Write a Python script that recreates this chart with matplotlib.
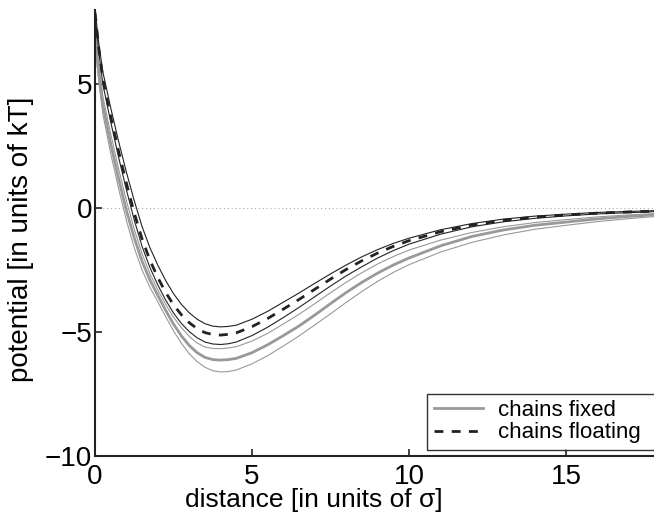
import matplotlib
matplotlib.use("Agg")
import matplotlib.pyplot as plt

plt.rcParams['font.family'] = ['Liberation Sans', 'DejaVu Sans']

# sampled separation (units of sigma)
distance = [0, 0.125, 0.25, 0.5, 0.75, 1.0, 1.25, 1.5, 1.75, 2.0, 2.25, 2.5, 2.75,
            3.0, 3.25, 3.5, 3.75, 4.0, 4.25, 4.5, 5.0, 5.5, 6.0, 6.5, 7.0, 7.5,
            8.0, 8.5, 9.0, 9.5, 10, 11, 12, 13, 14, 15, 16, 17, 17.8]

# chains floating: mean and envelope (kT)
floating_mean = [7.9, 6.4, 5.2, 3.7, 2.3, 1.0, -0.2, -1.25, -2.1, -2.8, -3.4, -3.9, -4.3,
                 -4.62, -4.86, -5.02, -5.10, -5.12, -5.09, -5.03, -4.78, -4.45, -4.07, -3.68,
                 -3.27, -2.86, -2.47, -2.12, -1.81, -1.54, -1.31, -0.95, -0.68, -0.49, -0.36,
                 -0.27, -0.20, -0.15, -0.12]
floating_hi = [8.0, 6.6, 5.5, 4.05, 2.7, 1.45, 0.3, -0.75, -1.6, -2.3, -2.92, -3.45, -3.88,
               -4.22, -4.48, -4.66, -4.76, -4.79, -4.77, -4.72, -4.48, -4.16, -3.79, -3.42,
               -3.03, -2.65, -2.29, -1.96, -1.67, -1.42, -1.21, -0.87, -0.62, -0.44, -0.32,
               -0.24, -0.17, -0.13, -0.10]
floating_lo = [7.8, 6.25, 5.0, 3.48, 2.06, 0.74, -0.48, -1.55, -2.4, -3.1, -3.71, -4.23, -4.65,
               -4.98, -5.23, -5.40, -5.48, -5.50, -5.47, -5.40, -5.14, -4.80, -4.41, -4.00,
               -3.57, -3.14, -2.73, -2.36, -2.01, -1.71, -1.45, -1.05, -0.75, -0.55, -0.41,
               -0.31, -0.23, -0.18, -0.14]

# chains fixed: mean and envelope (kT)
fixed_mean = [6.95, 5.4, 4.15, 2.6, 1.2, -0.1, -1.2, -2.15, -2.9, -3.52, -4.12, -4.68, -5.15,
              -5.54, -5.83, -6.02, -6.11, -6.13, -6.11, -6.06, -5.83, -5.51, -5.14, -4.75,
              -4.31, -3.85, -3.40, -2.99, -2.62, -2.29, -2.01, -1.52, -1.14, -0.88, -0.69,
              -0.56, -0.43, -0.33, -0.27]
fixed_hi = [7.3, 5.75, 4.5, 3.0, 1.6, 0.3, -0.85, -1.85, -2.65, -3.3, -3.88, -4.4, -4.82,
            -5.17, -5.44, -5.60, -5.66, -5.67, -5.64, -5.59, -5.36, -5.05, -4.67, -4.28,
            -3.85, -3.41, -2.99, -2.60, -2.25, -1.95, -1.69, -1.29, -0.98, -0.75, -0.58,
            -0.46, -0.35, -0.27, -0.22]
fixed_lo = [6.6, 5.05, 3.8, 2.2, 0.8, -0.5, -1.6, -2.5, -3.2, -3.78, -4.38, -4.95, -5.45,
            -5.87, -6.19, -6.42, -6.56, -6.61, -6.59, -6.53, -6.28, -5.95, -5.56, -5.15,
            -4.71, -4.26, -3.80, -3.36, -2.95, -2.59, -2.28, -1.77, -1.38, -1.08, -0.85,
            -0.69, -0.54, -0.42, -0.34]

xticks = [0, 5, 10, 15]
yticks = [-10, -5, 0, 5]

fig = plt.figure(figsize=(6.54, 5.15), dpi=100)
ax = fig.add_axes([0.1453, 0.1146, 0.8547, 0.866])

ax.axhline(0, color='#aaaaaa', linestyle=(0, (1, 2.5)), linewidth=0.8, zorder=1)

gray = '#999999'
ax.plot(distance, fixed_hi, color=gray, linewidth=0.8)
ax.plot(distance, fixed_lo, color=gray, linewidth=0.8)
ax.plot(distance, fixed_mean, color=gray, linewidth=2.0, label='chains fixed')

ax.plot(distance, floating_hi, color='#222222', linewidth=0.8)
ax.plot(distance, floating_lo, color='#222222', linewidth=0.8)
ax.plot(distance, floating_mean, color='#222222', linewidth=2.0,
        dashes=(3.2, 3.0), label='chains floating')

ax.set_xlim(0, 17.8)
ax.set_ylim(-10, 8)
ax.set_xticks(xticks)
ax.set_yticks(yticks)
ax.set_xticklabels([str(t) for t in xticks])
ax.set_yticklabels(['\u221210', '\u22125', '0', '5'])

for side in ['top', 'right']:
    ax.spines[side].set_visible(False)
for side in ['left', 'bottom']:
    ax.spines[side].set_linewidth(1.5)
    ax.spines[side].set_color('#222222')

ax.tick_params(direction='in', length=5, width=1.2, color='#222222',
               labelsize=20, pad=2)
ax.tick_params(axis='x', pad=6)

ax.set_xlabel('distance [in units of \u03c3]', fontsize=19)
ax.set_ylabel('potential [in units of kT]', fontsize=20)
ax.xaxis.set_label_coords(0.392, -0.072)
ax.yaxis.set_label_coords(-0.11, 0.485)

leg = ax.legend(loc='lower left', bbox_to_anchor=(0.594, 0.0135, 0.45, 0.1435),
                mode='expand', fontsize=16, frameon=True, fancybox=False,
                handlelength=2.2, borderaxespad=0, labelspacing=0.05,
                borderpad=0.3, handletextpad=0.7)
leg.get_frame().set_edgecolor('black')
leg.get_frame().set_linewidth(1.0)

fig.savefig('out.png', dpi=100)
